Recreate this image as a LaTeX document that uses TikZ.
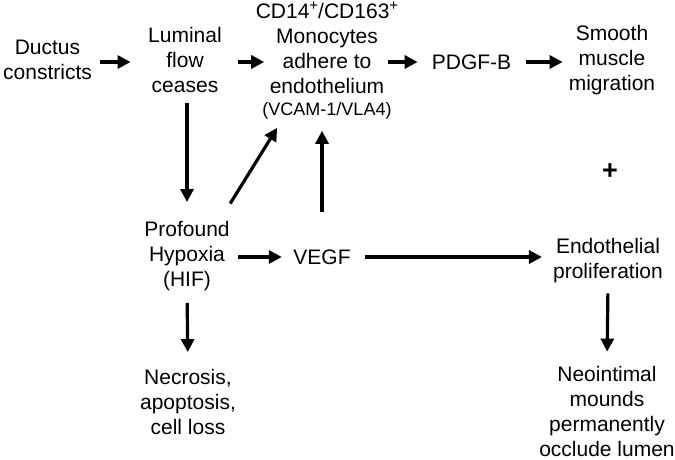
\documentclass[tikz,border=0pt]{standalone}
\usepackage{fontspec}
\setmainfont{Liberation Sans}
\usetikzlibrary{arrows.meta,calc}
\newcommand{\supplus}{\raisebox{8pt}{\fontsize{15}{15}\selectfont +}}
\tikzset{
  lbl/.style={align=center, inner sep=0pt, font=\fontsize{21}{25}\selectfont},
  arr/.style={line width=3.2pt, -{Triangle[length=13pt,width=13pt]}},
}
\begin{document}
\begin{tikzpicture}[x=1pt,y=-1pt]
\useasboundingbox (0,0) rectangle (675,460);
\node[lbl] (duct) at (47.5,60) {Ductus\\constricts};
\node[lbl] (lum) at (185,60) {Luminal\\flow\\ceases};
\node[lbl, anchor=north] (mono) at (327,1.5) {CD14\supplus/CD163\supplus\\Monocytes\\adhere to\\endothelium\\[-2.5pt]{\fontsize{18}{22}\selectfont (VCAM-1/VLA4)}};
\node[lbl] (pdgf) at (471.5,62) {PDGF-B};
\node[lbl] (smooth) at (612,60) {Smooth\\muscle\\migration};
\node[lbl, font=\fontsize{27}{27}\selectfont\bfseries] (plus) at (610,172) {+};
\node[lbl] (hyp) at (187,256) {Profound\\Hypoxia\\(HIF)};
\node[lbl] (vegf) at (322,257) {VEGF};
\node[lbl] (endo) at (608,261) {Endothelial\\proliferation};
\node[lbl] (neo) at (607,411) {Neointimal\\mounds\\permanently\\occlude lumen};
\node[lbl] (nec) at (188,402) {Necrosis,\\apoptosis,\\cell loss};

\draw[arr] ([xshift=8pt,yshift=-2pt]duct.east) -- ([xshift=-17.5pt,yshift=-2pt]lum.west);
\draw[arr] ([xshift=16.5pt,yshift=-2pt]lum.east) -- ([xshift=8.6pt,yshift=-2pt]lum.east -| mono.west);
\draw[arr] ([xshift=-10.6pt]mono.east |- pdgf.west) -- ([xshift=-14pt]pdgf.west);
\draw[arr] ([xshift=15pt]pdgf.east) -- ([xshift=-6pt]pdgf.east -| smooth.west);
\draw[arr, shorten <=10pt, shorten >=19pt] (lum.south -| hyp.north) -- (hyp.north);
\draw[arr] ($(hyp.north east)+(0.4,-17.5)$) -- ($(mono.south west)+(21.6,8)$);
\draw[arr, shorten <=37pt, shorten >=11pt] (vegf.north) -- (vegf.north |- mono.south);
\draw[arr] ([xshift=8.4pt]hyp.east |- vegf.west) -- ([xshift=-11.4pt]vegf.west);
\draw[arr] ([xshift=14.4pt]vegf.east) -- ([xshift=-11pt]vegf.east -| endo.west);
\draw[arr, shorten <=10pt, shorten >=14pt] (endo.south) -- (neo.north);
\draw[arr, shorten <=12pt, shorten >=17pt] (hyp.south) -- (nec.north);
\end{tikzpicture}
\end{document}
